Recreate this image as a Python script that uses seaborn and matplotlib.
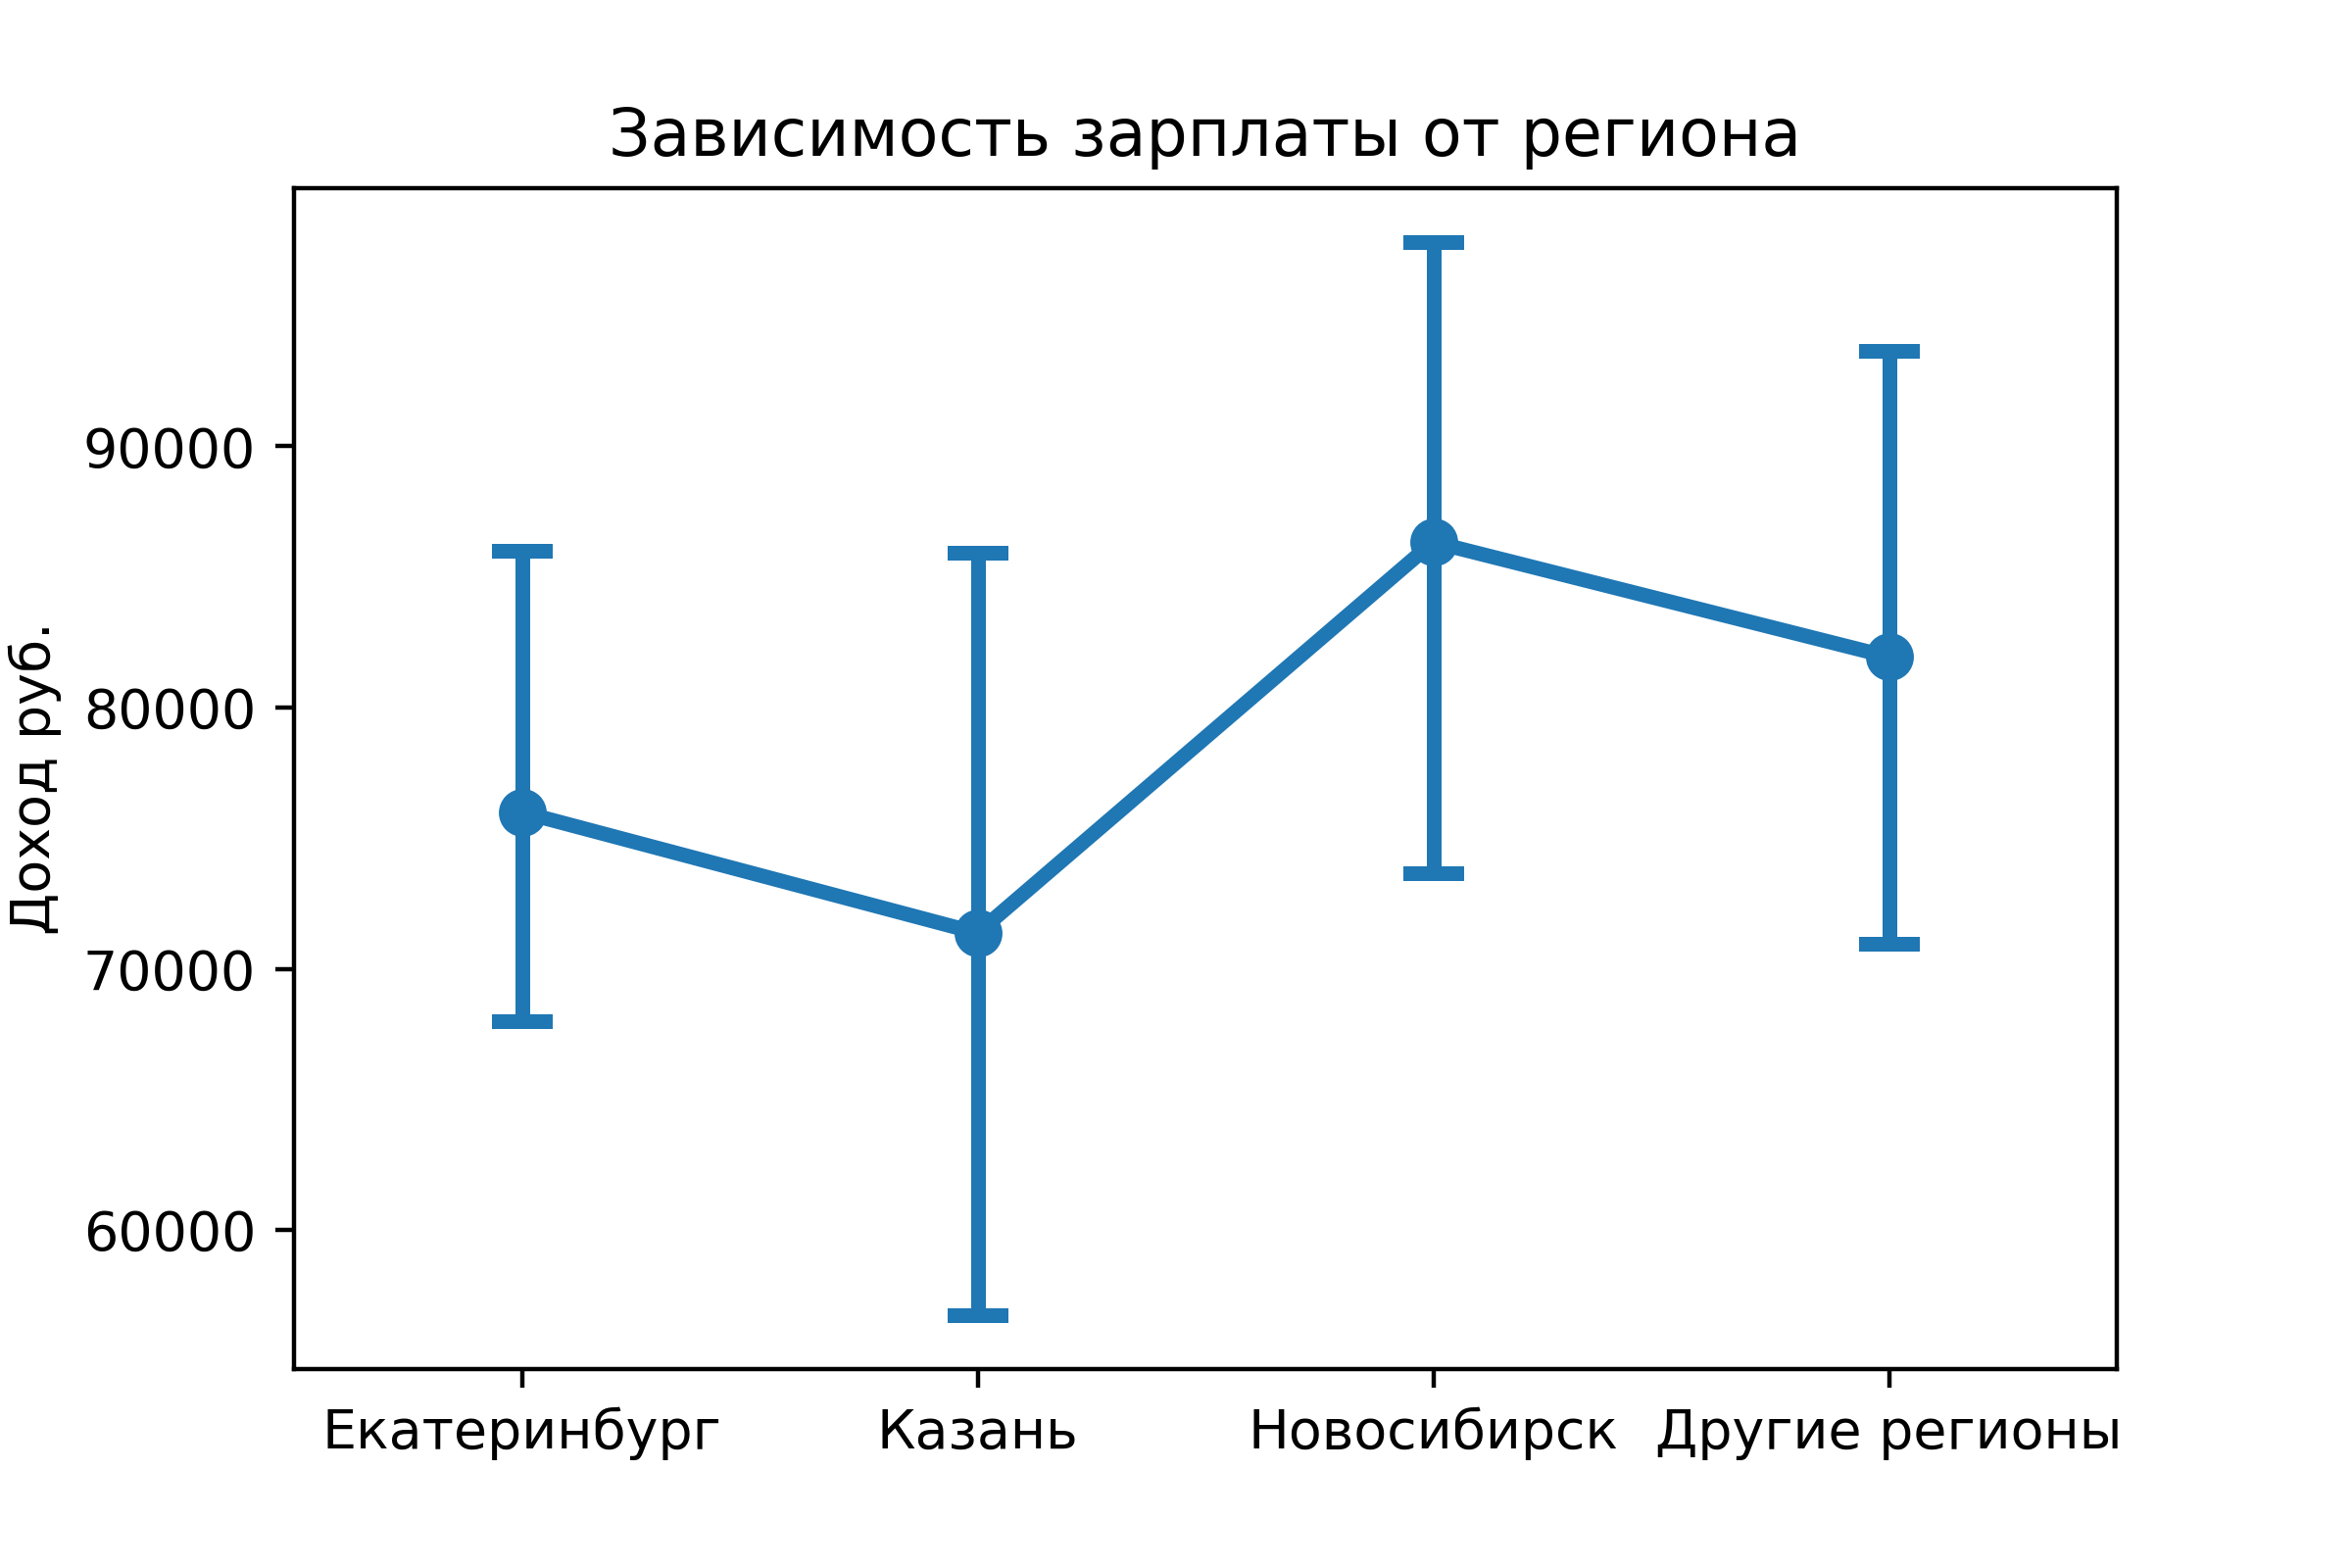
import numpy as np
import pandas as pd
import matplotlib
matplotlib.use("Agg")
import matplotlib.pyplot as plt
import seaborn as sns

# values
regions = ["Екатеринбург", "Казань", "Новосибирск", "Другие регионы"]
mean_income = [76000, 71370, 86340, 81940]
ci_low = [68000, 56740, 73660, 70970]
ci_high = [86000, 85940, 97830, 93660]

# three rows per region: lower bound, mean, upper bound
df = pd.DataFrame({
    "region": np.repeat(regions, 3),
    "income": np.ravel(np.column_stack([ci_low, mean_income, ci_high])),
})

fig, ax = plt.subplots(figsize=(6, 4), dpi=400)
fig.subplots_adjust(left=0.125, right=0.9, top=0.88, bottom=0.127)

sns.pointplot(
    data=df, x="region", y="income", order=regions,
    estimator=np.median,
    errorbar=lambda v: (v.min(), v.max()),
    capsize=0.1, color="#1f77b4", ax=ax,
)

ax.set_title("Зависимость зарплаты от региона")
ax.set_xlabel("")
ax.set_ylabel("Доход руб.")

fig.savefig("out.png", dpi=400)
